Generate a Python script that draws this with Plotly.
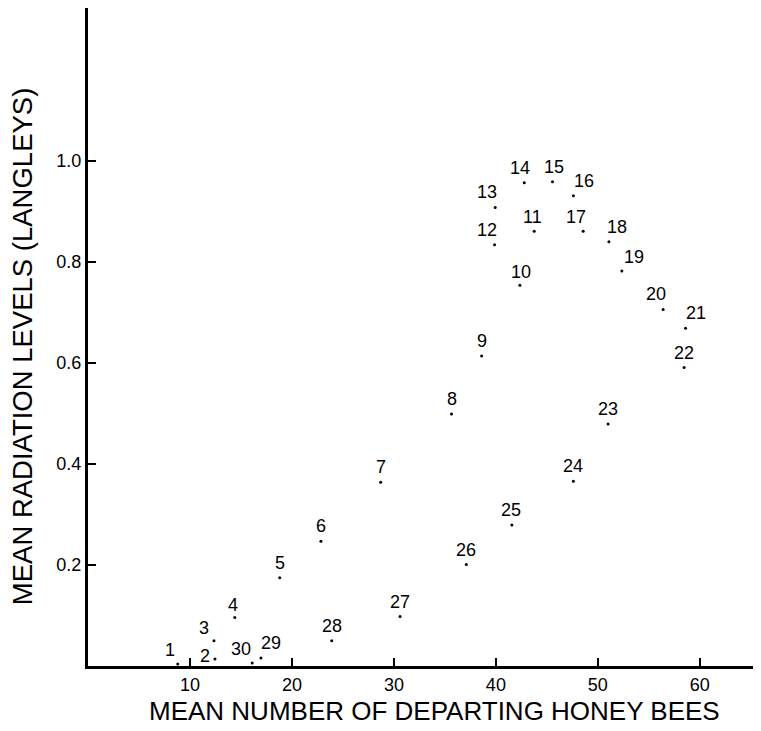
import plotly.graph_objects as go

# observation number, mean departing bees, mean radiation (langleys)
obs_labels = [str(i) for i in range(1, 31)]
bee_counts = [8.8, 12.45, 12.35, 14.4, 18.8, 22.84, 28.7, 35.65, 38.6, 42.35,
              43.76, 39.87, 39.93, 42.78, 45.55, 47.6, 48.56, 51.08, 52.35, 56.4,
              58.6, 58.46, 51.0, 47.6, 41.57, 37.1, 30.6, 23.9, 16.96, 16.1]
radiation = [0.004, 0.014, 0.05, 0.096, 0.175, 0.247, 0.364, 0.499, 0.614, 0.754,
             0.861, 0.834, 0.908, 0.957, 0.959, 0.931, 0.861, 0.840, 0.782, 0.706,
             0.669, 0.591, 0.479, 0.366, 0.279, 0.201, 0.098, 0.05, 0.016, 0.006]

x_ticks = [10, 20, 30, 40, 50, 60]
y_ticks = [0.2, 0.4, 0.6, 0.8, 1.0]
y_ticktext = ["0.2", "0.4", "0.6", "0.8", "1.0"]

# label nudges (px) so numbers sit like the original hand lettering
label_shift = {
    "1": (-8, 14), "2": (-10, 3), "3": (-10, 13), "4": (-2, 13),
    "10": (1, 13), "11": (-2, 14), "12": (-8, 15), "13": (-8, 15),
    "14": (-4, 15), "15": (2, 15), "16": (11, 15), "17": (-7, 14),
    "18": (8, 15), "19": (12, 14), "20": (-7, 15), "21": (10, 15),
    "25": (-1, 15), "29": (10, 15), "30": (-11, 14),
}

font_family = "Liberation Sans, Arial, Helvetica, sans-serif"

fig = go.Figure()
fig.add_trace(go.Scatter(
    x=bee_counts,
    y=radiation,
    mode="markers",
    marker=dict(color="black", size=3),
    showlegend=False,
    hoverinfo="skip",
))

for lab, xv, yv in zip(obs_labels, bee_counts, radiation):
    dx, dy = label_shift.get(lab, (0, 15))
    fig.add_annotation(
        x=xv, y=yv, text=lab, showarrow=False,
        xshift=dx, yshift=dy,
        font=dict(size=18, color="black", family=font_family),
    )

# axis titles
fig.add_annotation(
    x=0.515, y=0, xref="paper", yref="paper",
    xanchor="center", yanchor="middle", yshift=-45,
    text="MEAN NUMBER OF DEPARTING HONEY BEES", showarrow=False,
    font=dict(size=26, color="black", family=font_family),
)
fig.add_annotation(
    x=0, y=0.486, xref="paper", yref="paper",
    xanchor="center", yanchor="middle", xshift=-66,
    text="MEAN RADIATION LEVELS (LANGLEYS)", showarrow=False, textangle=-90,
    font=dict(size=27.5, color="black", family=font_family),
)

fig.update_xaxes(
    range=[0, 65.9],
    tickvals=x_ticks,
    ticks="inside",
    ticklen=8,
    tickwidth=1.5,
    tickcolor="black",
    showline=True,
    linecolor="black",
    linewidth=3,
    showgrid=False,
    zeroline=False,
    tickfont=dict(size=18, color="black", family=font_family),
)
fig.update_yaxes(
    range=[0, 1.303],
    tickvals=y_ticks,
    ticktext=y_ticktext,
    ticks="inside",
    ticklen=8,
    tickwidth=1.5,
    tickcolor="black",
    showline=True,
    linecolor="black",
    linewidth=3,
    showgrid=False,
    zeroline=False,
    tickfont=dict(size=18, color="black", family=font_family),
)
# page body adds ~8px around the figure, so size it to fill the window
fig.update_layout(
    width=753,
    height=723,
    margin=dict(l=80, r=1, t=0, b=65),
    plot_bgcolor="white",
    paper_bgcolor="white",
    font=dict(family=font_family, color="black"),
)

fig.write_html("out.html")
